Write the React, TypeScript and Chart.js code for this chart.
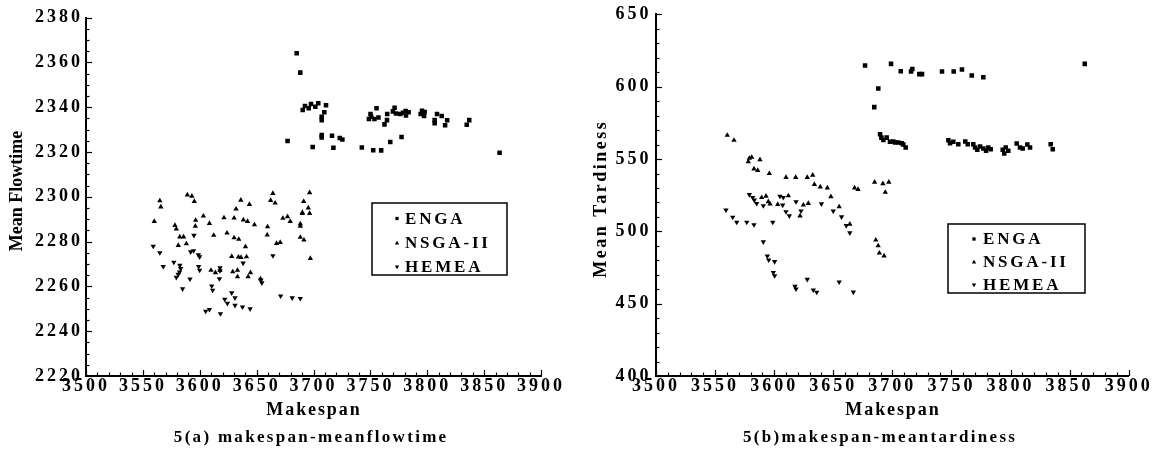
import React, { useEffect, useRef } from "react";
import { Chart, registerables } from "chart.js";

Chart.register(...registerables);

const SERIF = '"Liberation Serif", "Times New Roman", Times, serif';

// ---------- shared axis values ----------
const makespanTicks = [3500, 3550, 3600, 3650, 3700, 3750, 3800, 3850, 3900];
const flowtimeTicks = [2220, 2240, 2260, 2280, 2300, 2320, 2340, 2360, 2380];
const tardinessTicks = [400, 450, 500, 550, 600, 650];
const seriesNames = ["ENGA", "NSGA-II", "HEMEA"];

// ---------- 5(a) makespan vs mean flowtime ----------
const aEngaMakespan = [3685.2, 3688.4, 3690.5, 3692.5, 3695.8, 3697.8, 3701.6, 3704.2, 3711.0, 3709.5, 3707.2, 3707.2, 3677.2, 3699.3, 3707.2, 3707.2, 3716.3, 3717.5, 3723.1, 3725.4, 3742.5, 3752.5, 3759.5, 3767.5, 3777.4, 3748.7, 3750.1, 3750.7, 3753.6, 3755.4, 3757.1, 3762.4, 3764.6, 3764.8, 3769.8, 3771.3, 3772.5, 3776.3, 3778.7, 3781.0, 3783.6, 3781.3, 3794.2, 3795.4, 3797.7, 3797.2, 3808.6, 3806.5, 3806.5, 3812.7, 3817.5, 3815.7, 3834.7, 3836.9, 3863.6];
const aEngaFlowtime = [2364.0, 2355.4, 2338.7, 2340.5, 2339.5, 2341.4, 2340.2, 2341.7, 2340.8, 2337.7, 2335.7, 2334.2, 2324.9, 2322.2, 2327.5, 2326.5, 2327.2, 2321.9, 2326.2, 2325.6, 2322.0, 2320.8, 2320.7, 2324.4, 2326.7, 2334.7, 2336.9, 2335.7, 2334.7, 2339.5, 2335.4, 2332.3, 2334.2, 2336.9, 2338.1, 2339.7, 2337.2, 2336.9, 2337.5, 2338.3, 2337.7, 2336.3, 2336.9, 2338.4, 2337.8, 2336.0, 2336.9, 2334.2, 2332.8, 2336.0, 2334.1, 2331.9, 2332.1, 2334.2, 2319.6];

const aNsgaMakespan = [3564.9, 3565.8, 3589.1, 3593.1, 3595.2, 3560.0, 3578.2, 3579.4, 3596.4, 3596.1, 3603.2, 3608.5, 3582.5, 3585.8, 3581.1, 3588.2, 3612.3, 3621.3, 3630.2, 3624.0, 3631.9, 3636.1, 3643.7, 3638.4, 3642.0, 3648.1, 3630.2, 3634.3, 3640.2, 3628.1, 3634.0, 3636.3, 3641.1, 3609.9, 3613.8, 3617.8, 3629.0, 3633.2, 3633.2, 3642.5, 3644.6, 3653.4, 3659.6, 3659.3, 3664.3, 3662.3, 3666.3, 3667.5, 3670.7, 3673.1, 3677.2, 3679.5, 3688.4, 3688.4, 3690.2, 3690.2, 3691.4, 3696.6, 3695.4, 3696.6, 3688.4, 3691.6, 3697.2];
const aNsgaFlowtime = [2298.2, 2295.5, 2300.8, 2300.3, 2297.9, 2289.0, 2287.2, 2285.6, 2289.5, 2286.9, 2291.4, 2288.1, 2282.1, 2282.1, 2278.3, 2279.0, 2282.8, 2290.6, 2290.5, 2283.8, 2294.5, 2298.5, 2296.6, 2289.7, 2289.0, 2287.5, 2281.7, 2281.0, 2277.7, 2273.4, 2273.1, 2272.9, 2273.2, 2267.2, 2266.1, 2267.2, 2266.5, 2267.2, 2264.3, 2264.3, 2266.1, 2263.4, 2286.6, 2283.0, 2301.5, 2298.4, 2297.2, 2279.2, 2279.6, 2290.4, 2291.1, 2289.0, 2287.9, 2286.9, 2293.0, 2292.5, 2297.9, 2301.8, 2295.0, 2292.6, 2281.9, 2280.7, 2272.5];

const aHemeaMakespan = [3559.1, 3564.9, 3567.9, 3577.2, 3582.5, 3583.2, 3582.3, 3581.1, 3579.4, 3584.9, 3591.4, 3594.9, 3592.0, 3594.6, 3598.8, 3599.9, 3599.0, 3599.9, 3610.5, 3611.4, 3617.8, 3617.8, 3617.3, 3605.2, 3608.5, 3618.2, 3622.0, 3624.3, 3628.1, 3631.0, 3631.0, 3637.6, 3644.3, 3638.1, 3653.7, 3654.6, 3664.3, 3671.1, 3681.3, 3688.4];
const aHemeaFlowtime = [2277.9, 2275.0, 2268.9, 2270.8, 2269.4, 2267.9, 2266.4, 2265.4, 2264.0, 2258.9, 2263.3, 2282.8, 2275.4, 2275.9, 2274.1, 2273.2, 2268.9, 2267.2, 2260.2, 2258.3, 2268.3, 2267.0, 2263.4, 2248.9, 2249.7, 2247.8, 2254.2, 2252.4, 2257.1, 2254.9, 2251.5, 2250.8, 2250.0, 2270.4, 2262.8, 2261.6, 2273.7, 2255.7, 2254.9, 2254.6];

// ---------- 5(b) makespan vs mean tardiness ----------
const bEngaMakespan = [3676.9, 3698.9, 3707.1, 3715.8, 3716.9, 3722.8, 3725.1, 3742.0, 3751.9, 3758.9, 3767.2, 3777.0, 3688.1, 3684.7, 3862.8, 3689.6, 3690.7, 3692.4, 3695.2, 3698.0, 3700.8, 3702.3, 3705.0, 3707.9, 3709.3, 3711.3, 3747.4, 3748.8, 3751.6, 3755.8, 3761.7, 3763.8, 3768.5, 3770.0, 3771.9, 3774.2, 3777.0, 3779.3, 3781.2, 3783.2, 3793.4, 3794.7, 3795.9, 3798.1, 3805.2, 3808.0, 3810.3, 3814.2, 3816.5, 3834.0, 3835.7];
const bEngaTardiness = [614.6, 615.8, 610.7, 610.5, 612.3, 608.7, 608.7, 610.5, 610.5, 611.9, 607.8, 606.6, 598.7, 585.9, 615.8, 567.1, 564.8, 563.2, 564.8, 561.9, 562.1, 561.4, 561.4, 560.9, 560.0, 558.0, 563.0, 560.9, 561.9, 560.2, 562.1, 560.2, 560.2, 558.0, 556.4, 558.7, 557.3, 555.7, 558.0, 556.8, 556.4, 553.9, 558.0, 555.7, 560.7, 558.0, 557.3, 560.0, 558.0, 560.2, 556.8];

const bNsgaMakespan = [3560.3, 3566.0, 3579.0, 3581.0, 3578.1, 3588.0, 3582.9, 3586.1, 3595.9, 3610.0, 3618.2, 3628.0, 3589.4, 3593.1, 3595.0, 3596.5, 3603.0, 3612.0, 3621.9, 3624.7, 3628.9, 3632.6, 3634.0, 3639.0, 3645.0, 3648.0, 3655.0, 3668.0, 3671.0, 3664.0, 3685.0, 3692.0, 3694.0, 3686.0, 3688.0, 3689.0, 3693.0, 3697.0];
const bNsgaTardiness = [566.4, 563.0, 550.5, 551.2, 548.2, 549.6, 543.2, 542.1, 540.0, 537.3, 537.3, 537.3, 523.4, 524.3, 520.5, 518.9, 518.6, 524.6, 510.7, 518.2, 519.3, 538.9, 532.5, 530.7, 530.0, 524.0, 517.0, 530.0, 529.0, 505.0, 534.0, 533.0, 527.0, 494.0, 490.0, 485.0, 483.0, 534.0];

const bHemeaMakespan = [3559.2, 3564.9, 3568.3, 3576.8, 3582.9, 3598.8, 3579.0, 3581.8, 3583.2, 3585.2, 3590.8, 3604.9, 3607.7, 3607.2, 3610.0, 3612.8, 3618.5, 3622.7, 3590.8, 3594.2, 3595.4, 3600.4, 3599.3, 3600.4, 3617.6, 3618.5, 3628.0, 3633.1, 3636.0, 3640.0, 3650.0, 3657.0, 3661.0, 3664.0, 3655.0, 3667.0];
const bHemeaTardiness = [514.8, 509.8, 506.3, 506.3, 504.6, 506.3, 525.4, 523.4, 521.6, 519.3, 517.7, 524.3, 523.4, 518.2, 513.6, 510.7, 520.5, 514.1, 492.7, 482.9, 480.2, 479.1, 471.6, 469.3, 462.0, 460.2, 466.8, 459.5, 457.9, 519.0, 514.0, 510.0, 504.0, 499.0, 465.0, 458.0];

function toPoints(xs: number[], ys: number[]) {
  return xs.map((x, i) => ({ x, y: ys[i] }));
}

// ---------- plugins ----------
const tickSpacingPlugin = {
  id: "tickSpacing",
  beforeDraw(chart: any, _a: any, o: any) {
    chart.ctx.letterSpacing = (o.spacing || 0) + "px";
  },
  afterDraw(chart: any) {
    chart.ctx.letterSpacing = "0px";
  },
};

const inwardTicksPlugin = {
  id: "inwardTicks",
  afterDraw(chart: any, _a: any, o: any) {
    const { ctx, chartArea } = chart;
    const xs = chart.scales.x;
    const ys = chart.scales.y;
    ctx.save();
    ctx.strokeStyle = "#000";
    ctx.lineWidth = 1.2;
    const isMajor = (v: number, min: number, step: number) => {
      const q = (v - min) / step;
      return Math.abs(q - Math.round(q)) < 1e-6;
    };
    for (let v = xs.min; v <= xs.max + 1e-6; v += o.xMinor) {
      const px = Math.round(xs.getPixelForValue(v)) + 0.5;
      const len = isMajor(v, xs.min, o.xMajor) ? 6 : 3.5;
      ctx.beginPath();
      ctx.moveTo(px, chartArea.bottom);
      ctx.lineTo(px, chartArea.bottom - len);
      ctx.stroke();
    }
    for (let v = ys.min; v <= ys.max + 1e-6; v += o.yMinor) {
      const py = Math.round(ys.getPixelForValue(v)) + 0.5;
      const len = isMajor(v, ys.min, o.yMajor) ? 6 : 3.5;
      ctx.beginPath();
      ctx.moveTo(chartArea.left, py);
      ctx.lineTo(chartArea.left + len, py);
      ctx.stroke();
    }
    ctx.restore();
  },
};

const panelTextPlugin = {
  id: "panelText",
  afterDraw(chart: any, _a: any, o: any) {
    const ctx = chart.ctx;
    (o.items || []).forEach((t: any) => {
      ctx.save();
      ctx.font = `bold ${t.size}px ${SERIF}`;
      ctx.letterSpacing = t.spacing + "px";
      ctx.fillStyle = "#000";
      ctx.textAlign = "center";
      ctx.textBaseline = "middle";
      if (t.rotate) {
        ctx.translate(t.x, t.y - t.spacing / 2);
        ctx.rotate(-Math.PI / 2);
      } else {
        ctx.translate(t.x + t.spacing / 2, t.y);
      }
      ctx.fillText(t.text, 0, 0);
      ctx.restore();
    });
  },
};

function drawMarker(ctx: CanvasRenderingContext2D, style: string, rot: number, x: number, y: number, r: number) {
  ctx.beginPath();
  if (style === "rect") {
    ctx.rect(x - r * 0.75, y - r * 0.75, r * 1.5, r * 1.5);
  } else if (rot === 180) {
    ctx.moveTo(x - r, y - r * 0.7);
    ctx.lineTo(x + r, y - r * 0.7);
    ctx.lineTo(x, y + r);
    ctx.closePath();
  } else {
    ctx.moveTo(x - r, y + r * 0.7);
    ctx.lineTo(x + r, y + r * 0.7);
    ctx.lineTo(x, y - r);
    ctx.closePath();
  }
  ctx.fill();
}

const boxLegendPlugin = {
  id: "boxLegend",
  afterDraw(chart: any, _a: any, o: any) {
    if (!o || !o.box) return;
    const ctx = chart.ctx;
    ctx.save();
    ctx.letterSpacing = "0px";
    ctx.lineWidth = 1.5;
    ctx.strokeStyle = "#000";
    ctx.strokeRect(o.box.x, o.box.y, o.box.w, o.box.h);
    ctx.fillStyle = "#000";
    ctx.font = `bold ${o.size}px ${SERIF}`;
    ctx.textAlign = "left";
    ctx.textBaseline = "middle";
    chart.data.datasets.forEach((ds: any, i: number) => {
      const y = o.rows[i];
      ctx.letterSpacing = "0px";
      drawMarker(ctx, ds.pointStyle, ds.pointRotation || 0, o.markerX, y, 2.2);
      ctx.letterSpacing = o.spacing + "px";
      ctx.fillText(ds.label, o.textX, y + 1);
    });
    ctx.restore();
  },
};

// ---------- panel specs ----------
const panelA = {
  left: 0,
  width: 580,
  area: { left: 86, right: 541, top: 17.5, bottom: 376 },
  yMin: 2220,
  yMax: 2380,
  yTicks: flowtimeTicks,
  xMinor: 10,
  xMajor: 50,
  yMinor: 5,
  yMajor: 20,
  yLabelPad: 3,
  series: [
    [aEngaMakespan, aEngaFlowtime],
    [aNsgaMakespan, aNsgaFlowtime],
    [aHemeaMakespan, aHemeaFlowtime],
  ],
  texts: [
    { text: "Mean Flowtime", x: 17, y: 191, rotate: true, size: 18, spacing: 0 },
    { text: "Makespan", x: 313, y: 410, size: 18, spacing: 1.9 },
    { text: "5(a) makespan-meanflowtime", x: 310, y: 438, size: 17, spacing: 2.3 },
  ],
  legend: { box: { x: 372, y: 203, w: 135, h: 72 }, markerX: 397, textX: 405, rows: [218.5, 243, 267], size: 17, spacing: 2.8 },
};

const panelB = {
  left: 580,
  width: 583,
  area: { left: 76, right: 548.7, top: 12, bottom: 376 },
  yMin: 400,
  yMax: 650,
  yTicks: tardinessTicks,
  xMinor: 10,
  xMajor: 50,
  yMinor: 10,
  yMajor: 50,
  yLabelPad: 4.5,
  series: [
    [bEngaMakespan, bEngaTardiness],
    [bNsgaMakespan, bNsgaTardiness],
    [bHemeaMakespan, bHemeaTardiness],
  ],
  texts: [
    { text: "Mean Tardiness", x: 21.7, y: 200, rotate: true, size: 18, spacing: 2.5 },
    { text: "Makespan", x: 312, y: 410, size: 18, spacing: 1.9 },
    { text: "5(b)makespan-meantardiness", x: 299, y: 438, size: 17, spacing: 2.3 },
  ],
  legend: { box: { x: 368, y: 224, w: 137, h: 69 }, markerX: 394, textX: 403, rows: [239, 262, 285], size: 17, spacing: 2.8 },
};

const styles = [
  { pointStyle: "rect", pointRotation: 0, pointRadius: 3.2 },
  { pointStyle: "triangle", pointRotation: 0, pointRadius: 3.1 },
  { pointStyle: "triangle", pointRotation: 180, pointRadius: 3.1 },
];

function Panel({ spec }: { spec: any }) {
  const ref = useRef<HTMLCanvasElement | null>(null);
  useEffect(() => {
    if (!ref.current) return;
    const tickFont = { family: SERIF, size: 18, weight: "bold" as const, lineHeight: 1.1 };
    const chart = new Chart(ref.current, {
      type: "scatter",
      data: {
        datasets: spec.series.map((s: any, i: number) => ({
          label: seriesNames[i],
          data: toPoints(s[0], s[1]),
          pointStyle: styles[i].pointStyle,
          pointRotation: styles[i].pointRotation,
          pointRadius: styles[i].pointRadius,
          pointHoverRadius: styles[i].pointRadius,
          pointBackgroundColor: "#000",
          pointBorderWidth: 0,
          borderColor: "#000",
          backgroundColor: "#000",
          showLine: false,
        })),
      },
      options: {
        animation: false,
        responsive: false,
        devicePixelRatio: 1,
        events: [],
        layout: {
          padding: { left: 0, top: spec.area.top, right: spec.width - spec.area.right, bottom: 0 },
        },
        plugins: {
          legend: { display: false },
          tooltip: { enabled: false },
          title: { display: false },
          tickSpacing: { spacing: 3 },
          inwardTicks: { xMinor: spec.xMinor, xMajor: spec.xMajor, yMinor: spec.yMinor, yMajor: spec.yMajor },
          panelText: { items: spec.texts },
          boxLegend: spec.legend,
        } as any,
        scales: {
          x: {
            type: "linear",
            position: "bottom",
            min: 3500,
            max: 3900,
            afterBuildTicks: (scale: any) => {
              scale.ticks = makespanTicks.map((v) => ({ value: v }));
            },
            afterFit: (scale: any) => {
              scale.height = 449 - spec.area.bottom;
            },
            ticks: {
              color: "#000",
              font: tickFont,
              padding: 0,
              maxRotation: 0,
              autoSkip: false,
              callback: (v: any) => String(v),
            },
            grid: { display: true, drawOnChartArea: false, drawTicks: false, color: "rgba(0,0,0,0)" },
            border: { display: true, color: "#000", width: 2 },
          },
          y: {
            type: "linear",
            position: "left",
            min: spec.yMin,
            max: spec.yMax,
            afterBuildTicks: (scale: any) => {
              scale.ticks = spec.yTicks.map((v: number) => ({ value: v }));
            },
            afterFit: (scale: any) => {
              scale.width = spec.area.left;
            },
            ticks: {
              color: "#000",
              font: tickFont,
              padding: spec.yLabelPad,
              autoSkip: false,
              callback: (v: any) => String(v),
            },
            grid: { display: true, drawOnChartArea: false, drawTicks: false, color: "rgba(0,0,0,0)" },
            border: { display: true, color: "#000", width: 2 },
          },
        },
      },
      plugins: [tickSpacingPlugin, inwardTicksPlugin, panelTextPlugin, boxLegendPlugin],
    } as any);
    return () => chart.destroy();
  }, [spec]);
  return (
    <canvas
      ref={ref}
      width={spec.width}
      height={449}
      style={{ position: "absolute", left: spec.left, top: 0, width: spec.width, height: 449 }}
    />
  );
}

export default function App() {
  return (
    <div style={{ position: "fixed", left: 0, top: 0, width: 1163, height: 449, background: "#fff", overflow: "hidden" }}>
      <Panel spec={panelA} />
      <Panel spec={panelB} />
    </div>
  );
}
